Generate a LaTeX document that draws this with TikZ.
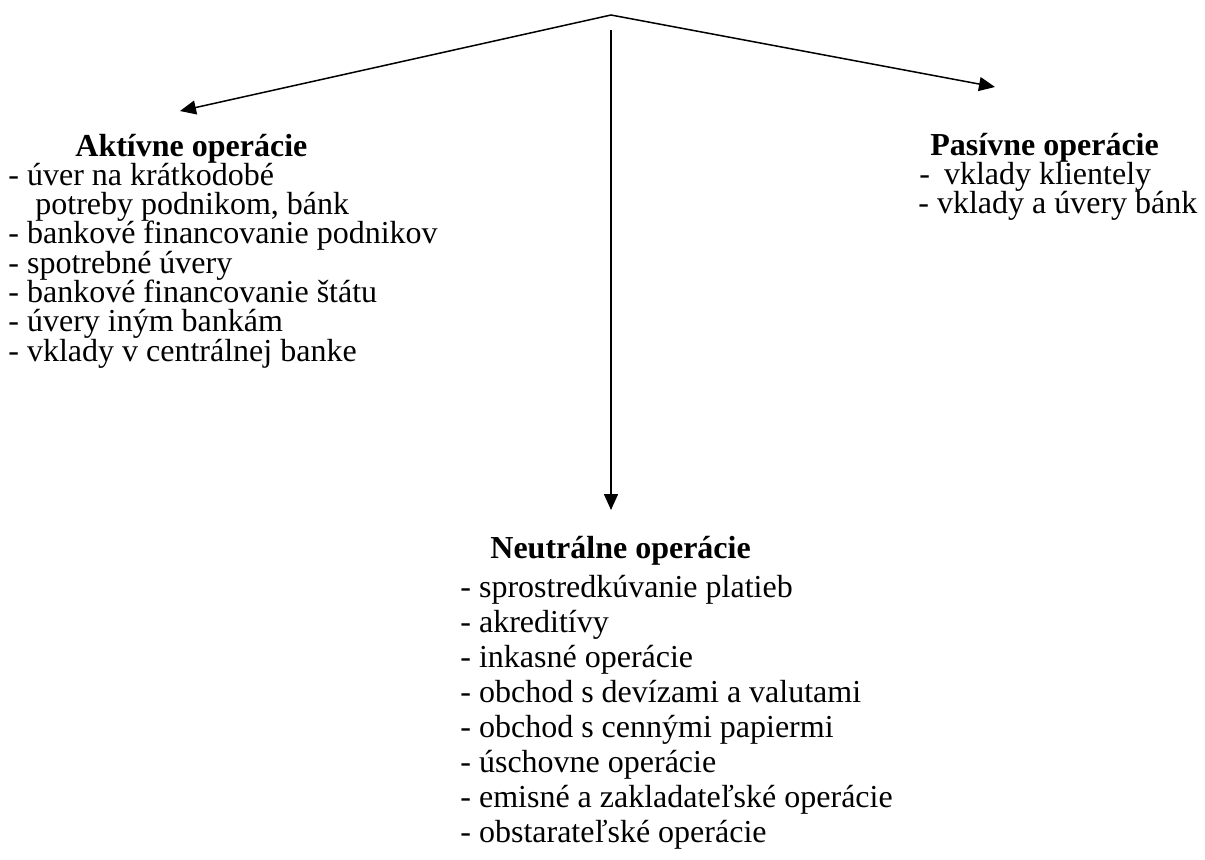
\documentclass[tikz,border=0pt]{standalone}
\usepackage{fontspec}
\setmainfont{Liberation Serif}
\usetikzlibrary{arrows.meta}
\tikzset{every node/.style={inner sep=0pt,anchor=base west,font=\fontsize{16}{19}\selectfont},
  head/.style={font=\fontsize{16}{19}\selectfont\bfseries},
  arr/.style={line width=0.75pt}}

\begin{document}
\begin{tikzpicture}[x=0.5pt,y=-0.5pt]
      \useasboundingbox (0,0) rectangle (1205,859);
      \coordinate (top) at (611,15);
      \coordinate (ltip) at (180,111);
      \coordinate (rtip) at (995,87);
      \coordinate (vstart) at (611,30);
      \coordinate (vtip) at (611,510);

      \node[head] (aktiv) at (75,156) {Aktívne operácie};
      \foreach \t [count=\i] in {- úver na krátkodobé, {\hspace{13.5pt}potreby podnikom, bánk},
          - bankové financovanie podnikov, - spotrebné úvery, - bankové financovanie štátu,
          - úvery iným bankám, - vklady v centrálnej banke}
        \node (a\i) at (8,{156+29.3*\i}) {\t};

      \node[head] (pasiv) at (930,155) {Pasívne operácie};
      \node (p1) at (919,184) {-\hspace{3pt} vklady klientely};
      \node (p2) at (918,213) {- vklady a úvery bánk};

      \node[head] (neutr) at (490,558) {Neutrálne operácie};
      \foreach \t [count=\i] in {- sprostredkúvanie platieb, - akreditívy, - inkasné operácie,
          - obchod s devízami a valutami, - obchod s cennými papiermi, - úschovne operácie,
          - emisné a zakladateľské operácie, - obstarateľské operácie}
        \node (n\i) at (460,{562+35.1*\i}) {\t};

      \draw[arr,{Triangle[length=8pt,width=7pt]}-{Triangle[length=8pt,width=7pt]}] (ltip) -- (top) -- (rtip);
      \draw[arr,-{Triangle[length=8pt,width=7pt]}] (vstart) -- (vtip);
    \end{tikzpicture}
\end{document}
